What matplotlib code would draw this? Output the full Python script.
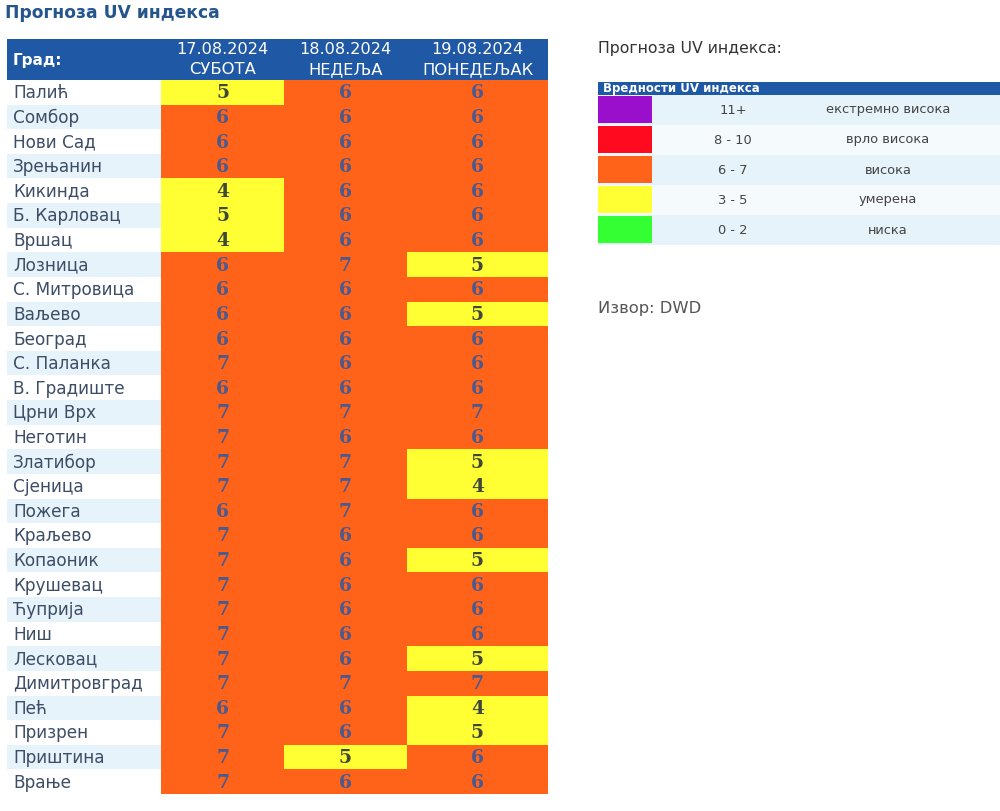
import matplotlib
matplotlib.use("Agg")
import matplotlib.pyplot as plt
from matplotlib.patches import Rectangle

plt.rcParams["font.family"] = ["DejaVu Sans"]

# ---------------- data ----------------
cities = ["Палић", "Сомбор", "Нови Сад", "Зрењанин", "Кикинда", "Б. Карловац", "Вршац",
          "Лозница", "С. Митровица", "Ваљево", "Београд", "С. Паланка", "В. Градиште",
          "Црни Врх", "Неготин", "Златибор", "Сјеница", "Пожега", "Краљево", "Копаоник",
          "Крушевац", "Ћуприја", "Ниш", "Лесковац", "Димитровград", "Пећ", "Призрен",
          "Приштина", "Врање"]
dates = ["17.08.2024", "18.08.2024", "19.08.2024"]
days = ["СУБОТА", "НЕДЕЉА", "ПОНЕДЕЉАК"]
uv_day1 = [5, 6, 6, 6, 4, 5, 4, 6, 6, 6, 6, 7, 6, 7, 7, 7, 7, 6, 7, 7, 7, 7, 7, 7, 7, 6, 7, 7, 7]
uv_day2 = [6, 6, 6, 6, 6, 6, 6, 7, 6, 6, 6, 6, 6, 7, 6, 7, 7, 7, 6, 6, 6, 6, 6, 6, 7, 6, 6, 5, 6]
uv_day3 = [6, 6, 6, 6, 6, 6, 6, 5, 6, 5, 6, 6, 6, 7, 6, 5, 4, 6, 6, 5, 6, 6, 6, 5, 7, 4, 5, 6, 6]
legend_ranges = ["11+", "8 - 10", "6 - 7", "3 - 5", "0 - 2"]
legend_labels = ["екстремно висока", "врло висока", "висока", "умерена", "ниска"]
legend_colors = ["#9a0fcc", "#ff0a1e", "#ff6319", "#ffff33", "#33ff33"]

def uv_color(v):
    if v >= 11: return legend_colors[0]
    if v >= 8: return legend_colors[1]
    if v >= 6: return legend_colors[2]
    if v >= 3: return legend_colors[3]
    return legend_colors[4]

HEADER_BLUE = "#1f58a5"
LIGHT = "#e6f3fa"

fig = plt.figure(figsize=(10, 8.11), dpi=100)
ax = fig.add_axes([0, 0, 1, 1])
ax.set_xlim(0, 1000)
ax.set_ylim(811, 0)
ax.axis("off")

# title
ax.text(5, 13, "Прогноза UV индекса", fontsize=12.3, fontweight="bold",
        color="#24568c", va="center", ha="left")

# table layout
col_edges = [7, 161, 284, 407, 548]
top_h, top_b = 39, 80
n = len(cities)
rh = (794 - top_b) / n

ax.add_patch(Rectangle((col_edges[0], top_h), col_edges[-1] - col_edges[0], top_b - top_h,
                       facecolor=HEADER_BLUE, edgecolor="none"))
ax.text(13, (top_h + top_b) / 2 + 1, "Град:", color="white", fontsize=11,
        fontweight="bold", va="center", ha="left")
for j, (d, w) in enumerate(zip(dates, days)):
    cx = (col_edges[j + 1] + col_edges[j + 2]) / 2
    ax.text(cx, 50, d, color="white", fontsize=11.6, va="center", ha="center")
    ax.text(cx, 70, w, color="white", fontsize=11.8, va="center", ha="center")

series = [uv_day1, uv_day2, uv_day3]
for i, c in enumerate(cities):
    y = top_b + i * rh
    bg = "white" if i % 2 == 0 else LIGHT
    ax.add_patch(Rectangle((col_edges[0], y), col_edges[1] - col_edges[0], rh,
                           facecolor=bg, edgecolor="none"))
    ax.text(13, y + rh / 2 + 1, c, fontsize=12.2, color="#3d4d66", va="center", ha="left")
    for j, s in enumerate(series):
        v = s[i]
        ax.add_patch(Rectangle((col_edges[j + 1], y), col_edges[j + 2] - col_edges[j + 1], rh,
                               facecolor=uv_color(v), edgecolor="none"))
        tc = "#3e4838" if v < 6 else "#4a5a8e"
        ax.text((col_edges[j + 1] + col_edges[j + 2]) / 2, y + rh / 2 + 1, str(v),
                fontsize=13.5, fontweight="bold", family="DejaVu Serif",
                color=tc, va="center", ha="center")

# legend panel
ax.text(598, 48, "Прогноза UV индекса:", fontsize=11.3, color="#333333", va="center", ha="left")
lx0, lx1 = 598, 1000
ax.add_patch(Rectangle((lx0, 82), lx1 - lx0, 13, facecolor=HEADER_BLUE, edgecolor="none"))
ax.text(603, 88.5, "Вредности UV индекса", fontsize=8.5, fontweight="bold",
        color="white", va="center", ha="left")
lrh = 30
for k, (r, lab, col) in enumerate(zip(legend_ranges, legend_labels, legend_colors)):
    y = 95 + k * lrh
    bg = LIGHT if k % 2 == 0 else "#f5fafd"
    ax.add_patch(Rectangle((lx0, y), lx1 - lx0, lrh, facecolor=bg, edgecolor="none"))
    ax.add_patch(Rectangle((lx0, y + 1), 54, lrh - 3, facecolor=col, edgecolor="none"))
    ax.text(733, y + lrh / 2, r, fontsize=9.4, color="#444444", va="center", ha="center")
    ax.text(888, y + lrh / 2, lab, fontsize=9.4, color="#444444", va="center", ha="center")

ax.text(598, 309, "Извор: DWD", fontsize=11.8, color="#555555", va="center", ha="left")

fig.savefig("out.png", dpi=100, facecolor="white")
